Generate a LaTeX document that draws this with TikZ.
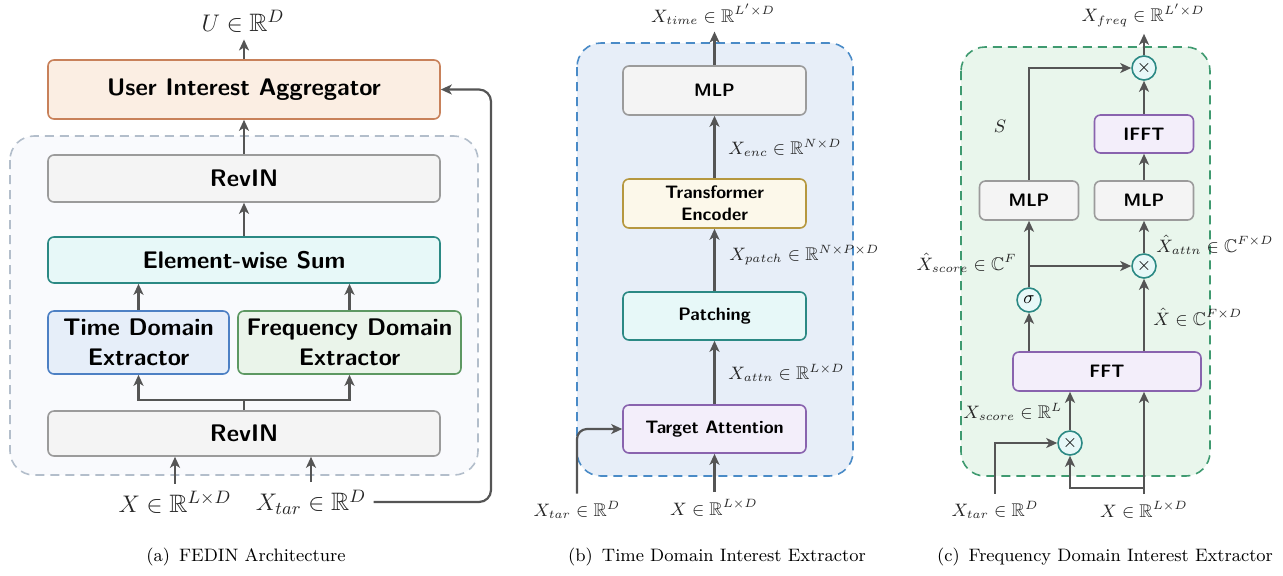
\documentclass[tikz,border=0pt]{standalone}
\usepackage{amssymb}
\usetikzlibrary{arrows.meta,positioning}

\definecolor{arrowgray}{HTML}{555555}
\definecolor{aggfill}{HTML}{FBEEE3}
\definecolor{aggdraw}{HTML}{C8815A}
\definecolor{boxfill}{HTML}{F4F4F4}
\definecolor{boxdraw}{HTML}{9B9B9B}
\definecolor{sumfill}{HTML}{E7F8F8}
\definecolor{sumdraw}{HTML}{2B8984}
\definecolor{timefill}{HTML}{E6EEF9}
\definecolor{timedraw}{HTML}{4D80C4}
\definecolor{freqfill}{HTML}{EAF4EA}
\definecolor{freqdraw}{HTML}{5D9862}
\definecolor{encfill}{HTML}{FCF8EA}
\definecolor{encdraw}{HTML}{B6983F}
\definecolor{attnfill}{HTML}{F3EEFA}
\definecolor{attndraw}{HTML}{8963AE}
\definecolor{outerfill}{HTML}{F9FAFD}
\definecolor{outerdraw}{HTML}{B3BECB}
\definecolor{tdfill}{HTML}{E7EEF8}
\definecolor{tddraw}{HTML}{4A8BC7}
\definecolor{fdfill}{HTML}{E9F6EC}
\definecolor{fddraw}{HTML}{3F9A70}

\begin{document}
\begin{tikzpicture}[
		x=0.5pt, y=-0.5pt,
		thick,
		>={Stealth[length=5.5pt,width=5pt,inset=1.5pt]},
		flow/.style={->, draw=arrowgray, line width=1.1pt},
		wire/.style={draw=arrowgray, line width=1.1pt},
		frame/.style={line width=0.8pt, dash pattern=on 4.5pt off 3pt, rounded corners=12pt},
		block/.style={rectangle, rounded corners=3pt, line width=0.8pt, inner sep=1pt, align=center, font=\fontsize{12}{15}\selectfont\sffamily\bfseries},
		blocksm/.style={block, font=\fontsize{9}{11}\selectfont\sffamily\bfseries},
		aggr/.style={block, draw=aggdraw, fill=aggfill},
		revin/.style={block, draw=boxdraw, fill=boxfill},
		sumup/.style={block, draw=sumdraw, fill=sumfill},
		timeext/.style={block, draw=timedraw, fill=timefill},
		freqext/.style={block, draw=freqdraw, fill=freqfill},
		mlp/.style={blocksm, draw=boxdraw, fill=boxfill},
		encoder/.style={blocksm, draw=encdraw, fill=encfill},
		patch/.style={blocksm, draw=sumdraw, fill=sumfill},
		target/.style={blocksm, draw=attndraw, fill=attnfill},
		op/.style={circle, draw=sumdraw, fill=sumfill, line width=0.8pt, minimum size=12pt, inner sep=0pt, font=\small},
		lab/.style={text=black!85, font=\fontsize{12.6}{14}\selectfont},
		labsm/.style={text=black!85, font=\fontsize{9.2}{11}\selectfont},
		caption/.style={font=\fontsize{9}{11}\selectfont}
	]
	\useasboundingbox (0,0) rectangle (1283,575);

	% (a)
	\draw[frame, draw=outerdraw, fill=outerfill] (10,136) rectangle (478,475);
	\node[aggr, minimum width=196pt, minimum height=29.5pt] (UIA) at (244,89.5) {User Interest Aggregator};
	\node[revin, minimum width=196pt, minimum height=23.5pt] (RevT) at (244,178.5) {RevIN};
	\node[sumup, minimum width=196pt, minimum height=23pt] (Sum) at (244,260) {Element-wise Sum};
	\node[timeext, minimum width=90.5pt, minimum height=31.5pt] (TDE) at (138.5,342.5) {Time Domain\\Extractor};
	\node[freqext, minimum width=111.5pt, minimum height=31.5pt] (FDE) at (349.5,342.5) {Frequency Domain\\Extractor};
	\node[revin, minimum width=196pt, minimum height=22.5pt] (RevB) at (244,433.5) {RevIN};
	\node[lab] (U) at (243,21) {$U \in \mathbb{R}^D$};
	\node[lab] (Xa) at (175,502) {$X \in \mathbb{R}^{L\times D}$};
	\node[lab] (Xtara) at (311,502) {$X_{tar} \in \mathbb{R}^D$};
	\coordinate (fork) at (244,400);
	\coordinate (loop) at (491,89.5);

	\draw[flow] (UIA.north) -- (UIA.north |- U.south);
	\draw[flow] (RevT.north) -- (UIA.south);
	\draw[flow] (Sum.north) -- (RevT.south);
	\draw[flow] (TDE.north) -- (TDE.north |- Sum.south);
	\draw[flow] (FDE.north) -- (FDE.north |- Sum.south);
	\draw[wire] (RevB.north) -- (fork);
	\draw[flow] (fork) -| (TDE.south);
	\draw[flow] (fork) -| (FDE.south);
	\draw[flow] (Xa.north) -- (Xa.north |- RevB.south);
	\draw[flow] (Xtara.north) -- (Xtara.north |- RevB.south);
	\draw[flow, rounded corners=6pt] (Xtara.east) -| (loop) -- (UIA.east);

	% (b)
	\draw[frame, draw=tddraw, fill=tdfill] (577,43) rectangle (853,476);
	\node[mlp, minimum width=91.5pt, minimum height=24.5pt] (MLPb) at (714.5,90.5) {MLP};
	\node[encoder, minimum width=91.5pt, minimum height=24.5pt] (Enc) at (714.5,203.5) {Transformer\\Encoder};
	\node[patch, minimum width=91.5pt, minimum height=24pt] (Patch) at (714.5,316) {Patching};
	\node[target, minimum width=91.5pt, minimum height=24pt] (TA) at (714.5,429) {Target Attention};
	\node[labsm] (Xtime) at (713,14) {$X_{time} \in \mathbb{R}^{L'\times D}$};
	\node[labsm, anchor=west] (Xenc) at (721,148) {$X_{enc} \in \mathbb{R}^{N\times D}$};
	\node[labsm, anchor=west] (Xpatch) at (722,255) {$X_{patch} \in \mathbb{R}^{N\times P\times D}$};
	\node[labsm, anchor=west] (Xattn) at (721,373) {$X_{attn} \in \mathbb{R}^{L\times D}$};
	\node[labsm] (Xb) at (714,508) {$X \in \mathbb{R}^{L\times D}$};
	\node[labsm] (Xtarb) at (577,510) {$X_{tar} \in \mathbb{R}^D$};

	\draw[flow] (MLPb.north) -- (MLPb.north |- Xtime.south);
	\draw[flow] (Enc.north) -- (MLPb.south);
	\draw[flow] (Patch.north) -- (Enc.south);
	\draw[flow] (TA.north) -- (Patch.south);
	\draw[flow] (TA.south |- Xb.north) -- (TA.south);
	\draw[flow, rounded corners=5pt] (Xtarb.north) |- (TA.west);

	% (c)
	\draw[frame, draw=fddraw, fill=fdfill] (961,47) rectangle (1210,476);
	\node[op] (opT) at (1144,68) {$\times$};
	\node[target, minimum width=49.5pt, minimum height=19pt] (IFFT) at (1144,134) {IFFT};
	\node[mlp, minimum width=49.5pt, minimum height=19.5pt] (MLPl) at (1029,200.5) {MLP};
	\node[mlp, minimum width=49.5pt, minimum height=19.5pt] (MLPr) at (1144,200.5) {MLP};
	\node[op] (opM) at (1144,266) {$\times$};
	\node[op] (sig) at (1029,300) {$\sigma$};
	\node[target, minimum width=94pt, minimum height=19.5pt] (FFT) at (1107,371.5) {FFT};
	\node[op] (opB) at (1070,443) {$\times$};
	\node[labsm] (Xfreq) at (1143,15) {$X_{freq} \in \mathbb{R}^{L'\times D}$};
	\node[labsm] (S) at (1000,126) {$S$};
	\node[labsm, anchor=west] (Xhattn) at (1149,245) {$\hat{X}_{attn} \in \mathbb{C}^{F\times D}$};
	\node[labsm, anchor=east] (Xhscore) at (1024,263) {$\hat{X}_{score} \in \mathbb{C}^{F}$};
	\node[labsm, anchor=west] (Xhat) at (1146,317) {$\hat{X} \in \mathbb{C}^{F\times D}$};
	\node[labsm, anchor=west] (Xscore) at (956,412) {$X_{score} \in \mathbb{R}^{L}$};
	\node[labsm] (Xtarc) at (995,510) {$X_{tar} \in \mathbb{R}^D$};
	\node[labsm] (Xc) at (1144,510) {$X \in \mathbb{R}^{L\times D}$};
	\coordinate (split) at (1144,488);

	\draw[flow] (opT.north) -- (opT.north |- Xfreq.south);
	\draw[flow] (IFFT.north) -- (opT.south);
	\draw[flow] (MLPr.north) -- (IFFT.south);
	\draw[flow] (opM.north) -- (MLPr.south);
	\draw[flow] (MLPl.north) |- (opT.west);
	\draw[flow] (sig.north) -- (MLPl.south);
	\draw[flow] (sig.north |- opM.west) -- (opM.west);
	\draw[flow] (sig |- FFT.north) -- (sig.south);
	\draw[flow] (opM |- FFT.north) -- (opM.south);
	\draw[flow] (opB.north) -- (opB |- FFT.south);
	\draw[flow] (Xtarc.north) |- (opB.west);
	\draw[flow] (Xc.north) -- (Xc.north |- FFT.south);
	\draw[flow] (split) -| (opB.south);

	\node[caption] (capA) at (246,557) {(a)\enspace FEDIN Architecture};
	\node[caption] (capB) at (717,557) {(b)\enspace Time Domain Interest Extractor};
	\node[caption] (capC) at (1105,557) {(c)\enspace Frequency Domain Interest Extractor};
\end{tikzpicture}
\end{document}
